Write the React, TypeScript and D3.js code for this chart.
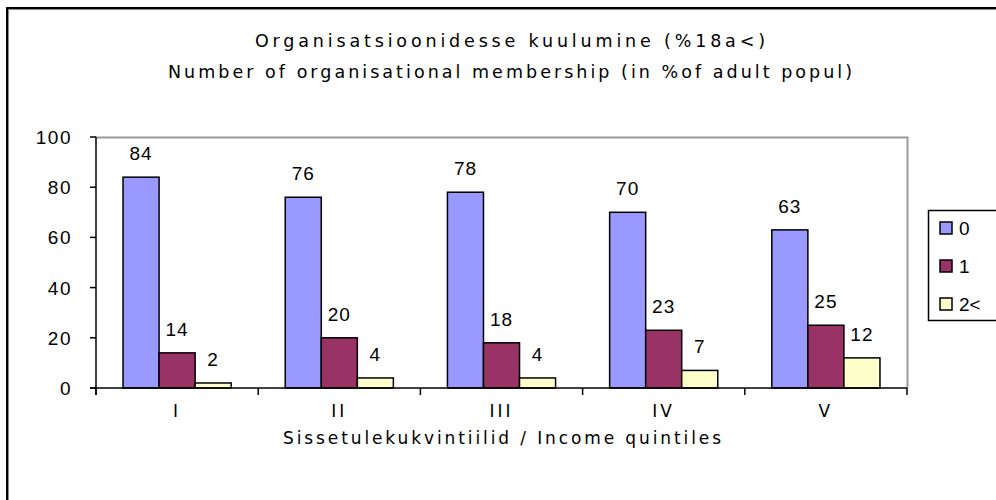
import * as d3 from "d3";
import React from "react";

// ── Data ──────────────────────────────────────────────────────────────────────
const QUINTILES = ["I", "II", "III", "IV", "V"];
const SERIES = ["0", "1", "2<"];
const VALUES_0 = [84, 76, 78, 70, 63];
const VALUES_1 = [14, 20, 18, 23, 25];
const VALUES_2 = [2, 4, 4, 7, 12];
const Y_TICKS = [0, 20, 40, 60, 80, 100];

const SERIES_VALUES = [VALUES_0, VALUES_1, VALUES_2];
const COLORS = ["#9999ff", "#993366", "#ffffcc"];

const TITLE_1 = "Organisatsioonidesse kuulumine (%18a<)";
const TITLE_2 = "Number of organisational membership (in %of adult popul)";
const X_TITLE = "Sissetulekukvintiilid / Income quintiles";

// ── Layout ───────────────────────────────────────────────────────────────────
const W = 996;
const H = 500;
const PLOT = { left: 96, right: 907, top: 137, bottom: 388 };
const PIXEL_FONT = "'DejaVu Sans', Verdana, sans-serif";
const NUM_FONT = "'Liberation Sans', Arial, sans-serif";

export default function App() {
  const y = d3.scaleLinear().domain([0, 100]).range([PLOT.bottom, PLOT.top]);
  const x0 = d3.scaleBand<string>().domain(QUINTILES).range([PLOT.left, PLOT.right]);
  const x1 = d3
    .scaleBand<string>()
    .domain(SERIES)
    .range([0, x0.bandwidth()])
    .paddingInner(0)
    .paddingOuter(0.75);

  const boundaries = [...QUINTILES.map((q) => x0(q)!), PLOT.right];

  return (
    <svg
      width={W}
      height={H}
      style={{ position: "fixed", left: 0, top: 0, background: "#fff" }}
    >
      {/* outer frame (runs off the right/bottom edge) */}
      <rect x={7} y={8} width={W + 40} height={H + 40} fill="none" stroke="#000" strokeWidth={2} />
      <rect x={8.5} y={9.5} width={W + 40} height={H + 40} fill="none" stroke="#888" strokeWidth={1} />

      {/* titles */}
      <text x={510} y={47} textAnchor="middle" fontFamily={PIXEL_FONT} fontSize={17.5}
        textLength={510} lengthAdjust="spacing">{TITLE_1}</text>
      <text x={510} y={78} textAnchor="middle" fontFamily={PIXEL_FONT} fontSize={17.5}
        textLength={684} lengthAdjust="spacing">{TITLE_2}</text>

      {/* plot area border (top + right, grey) */}
      <path
        d={`M${PLOT.left},${PLOT.top + 0.5}H${PLOT.right + 0.5}V${PLOT.bottom}`}
        fill="none"
        stroke="#999"
        strokeWidth={2}
      />

      {/* bars */}
      {QUINTILES.map((q, qi) => (
        <g key={q} transform={`translate(${x0(q)},0)`}>
          {SERIES.map((s, si) => {
            const v = SERIES_VALUES[si][qi];
            const bx = x1(s)!;
            const bw = x1.bandwidth();
            return (
              <g key={s}>
                <rect
                  x={bx}
                  y={y(v)}
                  width={bw}
                  height={y(0) - y(v)}
                  fill={COLORS[si]}
                  stroke="#000"
                  strokeWidth={1.5}
                />
                <text
                  x={bx + bw / 2}
                  y={y(v) - 17}
                  textAnchor="middle"
                  fontFamily={NUM_FONT}
                  fontSize={19}
                  letterSpacing={1}
                >
                  {v}
                </text>
              </g>
            );
          })}
        </g>
      ))}

      {/* y axis */}
      <line x1={PLOT.left} x2={PLOT.left} y1={PLOT.top} y2={PLOT.bottom + 7} stroke="#000" strokeWidth={1.5} />
      {Y_TICKS.map((t) => (
        <g key={t}>
          <line x1={PLOT.left - 6} x2={PLOT.left} y1={y(t)} y2={y(t)} stroke="#000" strokeWidth={1.5} />
          <text
            x={PLOT.left - 24}
            y={y(t) + 7}
            textAnchor="end"
            fontFamily={NUM_FONT}
            fontSize={19}
            letterSpacing={1.5}
          >
            {t}
          </text>
        </g>
      ))}

      {/* x axis */}
      <line x1={PLOT.left - 6} x2={PLOT.right} y1={PLOT.bottom} y2={PLOT.bottom} stroke="#000" strokeWidth={1.5} />
      {boundaries.map((b, i) => (
        <line key={i} x1={b} x2={b} y1={PLOT.bottom} y2={PLOT.bottom + 7} stroke="#000" strokeWidth={1.5} />
      ))}
      {QUINTILES.map((q) => (
        <text
          key={q}
          x={x0(q)! + x0.bandwidth() / 2}
          y={417}
          textAnchor="middle"
          fontFamily={PIXEL_FONT}
          fontSize={17}
          letterSpacing={3}
        >
          {q}
        </text>
      ))}
      <text x={502} y={444} textAnchor="middle" fontFamily={PIXEL_FONT} fontSize={17}
        textLength={438} lengthAdjust="spacing">{X_TITLE}</text>

      {/* legend */}
      <rect x={928.5} y={210.5} width={100} height={110} fill="#fff" stroke="#000" strokeWidth={1.5} />
      {SERIES.map((s, i) => (
        <g key={s} transform={`translate(940,${222 + i * 38})`}>
          <rect x={0} y={0} width={12} height={12} fill={COLORS[i]} stroke="#000" strokeWidth={1.5} />
          <text x={19} y={13} fontFamily={NUM_FONT} fontSize={19}>
            {s}
          </text>
        </g>
      ))}
    </svg>
  );
}
